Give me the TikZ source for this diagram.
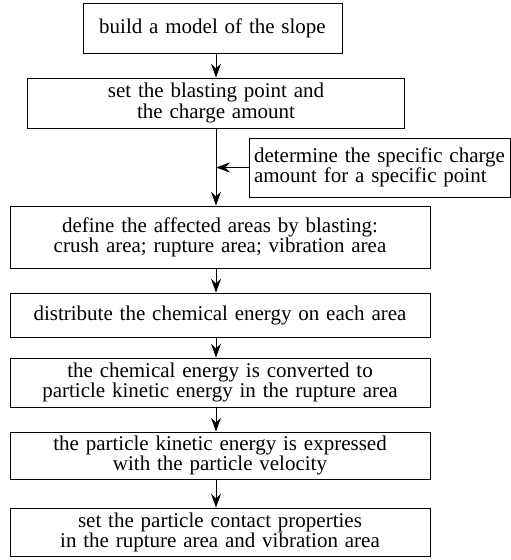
\documentclass[tikz,border=0pt]{standalone}
\usepackage{fontspec}
\setmainfont{Liberation Serif}
\newfontfamily\boxfont[WordSpace=1.3]{Liberation Serif}
\usetikzlibrary{arrows.meta}

\begin{document}
\begin{tikzpicture}[x=1pt,y=-1pt,
    box/.style={draw, line width=0.8pt, inner sep=0pt, align=center,
      font=\boxfont\fontsize{21}{19}\selectfont},
    arr/.style={line width=0.9pt, -{Stealth[length=14pt,width=10pt,inset=5pt]}}]
        \useasboundingbox (0,0) rectangle (511,560);
        \node[box, minimum width=259, minimum height=50] (b1) at (212.5,28) {build a model of the slope};
        \node[box, minimum width=377, minimum height=50] (b2) at (216,103) {set the blasting point and\\the charge amount};
        \node[box, align=left, minimum width=261, minimum height=59] (spec) at (379.5,167.5) {determine the specific charge\\amount for a specific point};
        \node[box, minimum width=420, minimum height=62] (b3) at (220,237) {define the affected areas by blasting:\\crush area; rupture area; vibration area};
        \node[box, minimum width=420, minimum height=44] (b4) at (220,315) {distribute the chemical energy on each area};
        \node[box, minimum width=420, minimum height=49] (b5) at (220,382.5) {the chemical energy is converted to\\particle kinetic energy in the rupture area};
        \node[box, minimum width=420, minimum height=47] (b6) at (220,455.5) {the particle kinetic energy is expressed\\with the particle velocity};
        \node[box, minimum width=420, minimum height=48] (b7) at (220,532) {set the particle contact properties\\in the rupture area and vibration area};
        \draw[arr] (b2.north |- b1.south) -- (b2.north);
        \draw[arr] (b2.south) -- (b2.south |- b3.north);
        \draw[arr] (spec.west) -- (spec.west -| b2.south);
        \foreach \a/\b in {b3/b4,b4/b5,b5/b6,b6/b7} {
          \draw[arr] (\a.south -| b2.south) -- (\b.north -| b2.south);
        }
\end{tikzpicture}
\end{document}
